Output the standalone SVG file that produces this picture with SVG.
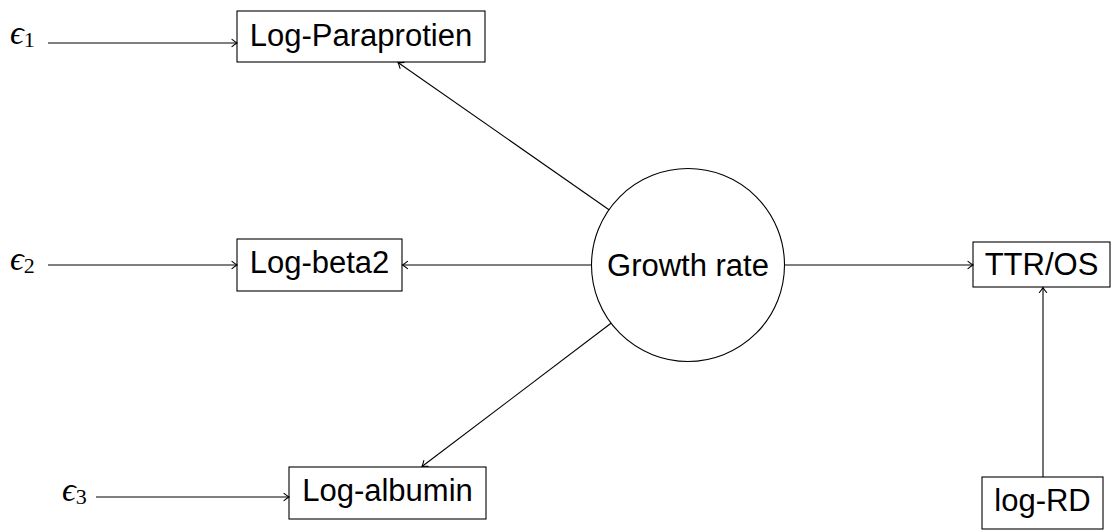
<svg xmlns="http://www.w3.org/2000/svg" width="1111" height="530" viewBox="0 0 1111 530">
  <style>
    .box { fill: #fff; stroke: #000; stroke-width: 1.1; }
    .lbl { font-family: "Liberation Sans", Arial, Helvetica, sans-serif; font-size: 31px; fill: #000; text-anchor: middle; }
    .eps { font-family: "Liberation Serif", "DejaVu Serif", serif; font-style: italic; font-size: 34px; fill: #000; }
    .sub { font-style: normal; font-size: 22px; }
    .edge { fill: none; stroke: #000; stroke-width: 1.1; marker-end: url(#tip); }
  </style>
  <defs>
    <marker id="tip" markerUnits="userSpaceOnUse" markerWidth="12" markerHeight="12" viewBox="-6 -6 12 12" refX="0" refY="0" orient="auto">
      <path d="M -5 -3.6 Q -1.5 -0.8 0 0 Q -1.5 0.8 -5 3.6" fill="none" stroke="#000" stroke-width="1.1" stroke-linecap="round"/>
    </marker>
  </defs>

  <!-- error terms -->
  <g id="eps1"><text class="eps" x="10" y="44">ϵ<tspan class="sub" dy="3">1</tspan></text></g>
  <g id="eps2"><text class="eps" x="10" y="270">ϵ<tspan class="sub" dy="3">2</tspan></text></g>
  <g id="eps3"><text class="eps" x="62" y="501">ϵ<tspan class="sub" dy="3">3</tspan></text></g>

  <!-- measurement nodes -->
  <g id="log-paraprotien">
    <rect class="box" x="237" y="11" width="248" height="51"/>
    <text class="lbl" x="361" y="46">Log-Paraprotien</text>
  </g>
  <g id="log-beta2">
    <rect class="box" x="237" y="239" width="165" height="52"/>
    <text class="lbl" x="319.5" y="273">Log-beta2</text>
  </g>
  <g id="log-albumin">
    <rect class="box" x="289" y="467" width="197" height="52"/>
    <text class="lbl" x="387.5" y="501">Log-albumin</text>
  </g>

  <!-- latent growth rate -->
  <g id="growth-rate">
    <circle class="box" cx="688" cy="265" r="96.5"/>
    <text class="lbl" x="688" y="276">Growth rate</text>
  </g>

  <!-- outcome and covariate -->
  <g id="ttr-os">
    <rect class="box" x="973" y="242" width="137" height="45"/>
    <text class="lbl" x="1041.5" y="275">TTR/OS</text>
  </g>
  <g id="log-rd">
    <rect class="box" x="982" y="477" width="121" height="52"/>
    <text class="lbl" x="1042.5" y="511">log-RD</text>
  </g>

  <!-- connectors -->
  <g id="connectors">
    <line class="edge" x1="48" y1="43" x2="237" y2="43"/>
    <line class="edge" x1="48" y1="265" x2="237" y2="265"/>
    <line class="edge" x1="96" y1="497" x2="289" y2="497"/>
    <line class="edge" x1="609" y1="209.7" x2="398" y2="62.5"/>
    <line class="edge" x1="591.5" y1="265" x2="402.5" y2="265"/>
    <line class="edge" x1="611" y1="323.3" x2="422" y2="466.5"/>
    <line class="edge" x1="784.5" y1="265" x2="973" y2="265"/>
    <line class="edge" x1="1043" y1="477" x2="1043" y2="287.5"/>
  </g>
</svg>
